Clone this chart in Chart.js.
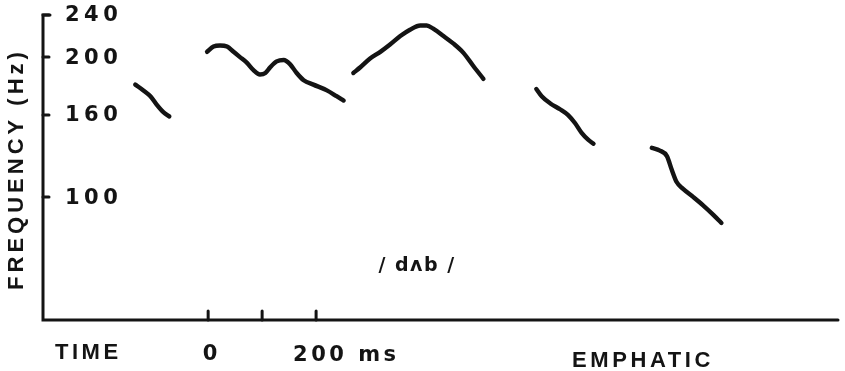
<!DOCTYPE html>
<html>
<head>
<meta charset="utf-8">
<script src="https://cdn.jsdelivr.net/npm/chart.js@4.4.0/dist/chart.umd.min.js"></script>
<style>
  html, body { margin: 0; padding: 0; background: #fff; }
</style>
</head>
<body>
<canvas id="pitchChart" width="845" height="371"></canvas>
<script>
// F0 tracing, time in ms (0 = onset of /dab/), frequency in Hz
const seg1Time = [-135, -120, -107, -95, -83, -72];
const seg1Hz = [181, 177, 173, 167, 162, 159];

const seg2Time = [-2, 10, 22, 35, 47, 59, 72, 84, 96, 106, 115, 127, 140, 152, 164, 177, 195, 220, 238, 251];
const seg2Hz = [205, 210, 211, 210, 205, 200, 196, 191, 188, 189, 193, 197, 198, 195, 189, 184, 181, 177, 173, 170];

const seg3Time = [269, 282, 300, 319, 337, 356, 374, 393, 405, 417, 436, 454, 473, 491, 510];
const seg3Hz = [189, 193, 199, 205, 212, 220, 226, 230, 230, 227, 220, 213, 204, 194, 185];

const seg4Time = [608, 618, 634, 652, 667, 680, 692, 704, 714];
const seg4Hz = [178, 173, 168, 164, 160, 154, 147, 142, 139];

const seg5Time = [822, 837, 850, 859, 868, 880, 899, 917, 936, 951];
const seg5Hz = [136, 134, 130, 120, 111, 106, 100, 94, 87, 81];

const yTicks = [240, 200, 160, 100];
const xTicks = [0, 100, 200];

// the frequency axis of the original is hand spaced, so the scale follows its tick spacing
const freqAnchors = [[10, 0], [100, 0.403], [160, 0.672], [200, 0.862], [240, 1]];

class WarpScale extends Chart.LinearScale {
  getPixelForValue(value) {
    const a = freqAnchors;
    let dec = 0;
    for (let i = 1; i < a.length; i++) {
      if (value <= a[i][0] || i === a.length - 1) {
        const t = (value - a[i - 1][0]) / (a[i][0] - a[i - 1][0]);
        dec = a[i - 1][1] + t * (a[i][1] - a[i - 1][1]);
        break;
      }
    }
    return this.getPixelForDecimal(dec);
  }
}
WarpScale.id = 'warp';
WarpScale.defaults = Chart.LinearScale.defaults;
Chart.register(WarpScale);

function toPoints(times, values) {
  return times.map((t, i) => ({ x: t, y: values[i] }));
}

const INK = '#141414';
const FONT = '"Liberation Sans", Arial, sans-serif';
const NUMFONT = '"DejaVu Sans", sans-serif';

function spaced(ctx, text, x, y, spacing) {
  ctx.letterSpacing = spacing + 'px';
  ctx.fillText(text, x, y);
  ctx.letterSpacing = '0px';
}

const handAxes = {
  id: 'handAxes',
  afterDatasetsDraw(chart) {
    const { ctx, chartArea: area, scales: { x, y } } = chart;
    const top = y.getPixelForValue(240);
    ctx.save();
    ctx.strokeStyle = INK;
    ctx.fillStyle = INK;
    ctx.lineWidth = 3;
    ctx.lineCap = 'round';

    // axis lines
    ctx.beginPath();
    ctx.moveTo(area.left + 7, top);
    ctx.lineTo(area.left, top);
    ctx.lineTo(area.left, area.bottom);
    ctx.lineTo(area.right, area.bottom);
    ctx.stroke();

    // frequency ticks and labels
    ctx.font = 'bold 21px ' + NUMFONT;
    ctx.textBaseline = 'middle';
    ctx.textAlign = 'left';
    yTicks.forEach(v => {
      const py = y.getPixelForValue(v);
      ctx.beginPath();
      ctx.moveTo(area.left, py);
      ctx.lineTo(area.left + 6, py);
      ctx.stroke();
      spaced(ctx, String(v), area.left + 22, py + 1, 4.5);
    });

    // time ticks
    xTicks.forEach(v => {
      const px = x.getPixelForValue(v);
      ctx.beginPath();
      ctx.moveTo(px, area.bottom - 9);
      ctx.lineTo(px, area.bottom);
      ctx.stroke();
    });

    ctx.textBaseline = 'middle';
    ctx.font = 'bold 21px ' + NUMFONT;
    ctx.textAlign = 'center';
    spaced(ctx, '0', x.getPixelForValue(0) + 2, 355, 0);
    ctx.textAlign = 'left';
    spaced(ctx, '200 ms', x.getPixelForValue(200) - 23, 356, 3.5);

    ctx.font = 'bold 22px ' + FONT;
    spaced(ctx, 'TIME', 55, 353, 3.5);
    spaced(ctx, 'EMPHATIC', 572, 361, 3.6);

    // frequency title
    ctx.save();
    ctx.translate(17, 169);
    ctx.rotate(-Math.PI / 2);
    ctx.textAlign = 'center';
    ctx.font = 'bold 22px ' + FONT;
    spaced(ctx, 'FREQUENCY (Hz)', 0, 0, 4);
    ctx.restore();

    // word label
    ctx.font = 'bold 19px "DejaVu Sans", sans-serif';
    ctx.textAlign = 'center';
    spaced(ctx, '/ d\u028Cb /', 417, 266, 1.5);

    ctx.restore();
  }
};

function contour(times, values) {
  return {
    data: toPoints(times, values),
    borderColor: INK,
    borderWidth: 4.4,
    borderCapStyle: 'round',
    borderJoinStyle: 'round',
    pointRadius: 0,
    cubicInterpolationMode: 'monotone',
    fill: false
  };
}

new Chart(document.getElementById('pitchChart').getContext('2d'), {
  type: 'line',
  data: {
    datasets: [
      contour(seg1Time, seg1Hz),
      contour(seg2Time, seg2Hz),
      contour(seg3Time, seg3Hz),
      contour(seg4Time, seg4Hz),
      contour(seg5Time, seg5Hz)
    ]
  },
  options: {
    responsive: false,
    animation: false,
    devicePixelRatio: 1,
    events: [],
    layout: { padding: { left: 43, right: 7, top: 15, bottom: 51 } },
    plugins: { legend: { display: false }, tooltip: { enabled: false } },
    scales: {
      x: { type: 'linear', min: -306, max: 1167, display: false },
      y: { type: 'warp', min: 10, max: 240, display: false }
    }
  },
  plugins: [handAxes]
});
</script>
</body>
</html>
